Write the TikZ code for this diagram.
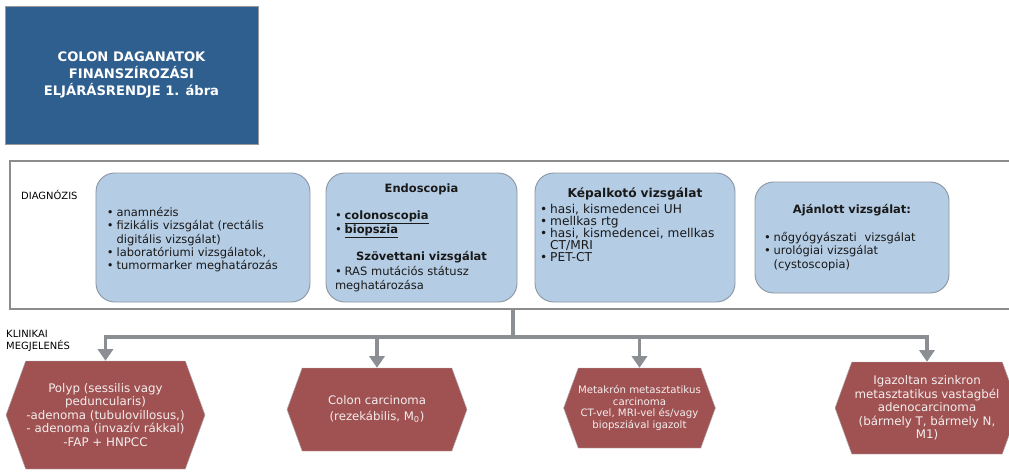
\documentclass[tikz,border=0pt]{standalone}
\usepackage{fontspec}
\setmainfont{DejaVu Sans}
\usepackage{xcolor}
\usetikzlibrary{arrows.meta,shapes.symbols}

\definecolor{cimkek}{HTML}{2F5F8F}
\definecolor{dobozkek}{HTML}{B4CCE4}
\definecolor{dobozszel}{HTML}{8E98A4}
\definecolor{keretszurke}{HTML}{8C8C8C}
\definecolor{nyilszurke}{HTML}{8B8F93}
\definecolor{hexbarna}{HTML}{A05252}
\definecolor{hexszoveg}{HTML}{F4EEEE}

% felsorolas pont, a folytatosor a pont utan kezdodik
\newcommand\pont{\textbullet\hspace{0.25em}}
\newcommand\lista[1]{\par\setbox0\hbox{\pont}\hangindent=\wd0\hangafter=1\noindent\box0 #1}

\tikzset{
  cimdoboz/.style={draw=gray!80, line width=0.8pt, fill=cimkek, text=white, align=center,
    font=\bfseries\fontsize{11.2}{14.5}\selectfont},
  keret/.style={draw=keretszurke, line width=2.5pt},
  vizsgalat/.style={draw=dobozszel, line width=0.8pt, fill=dobozkek, rounded corners=16pt,
    text=black!90, inner xsep=0pt, font=\fontsize{9.8}{11.5}\selectfont},
  kimenet/.style={signal, signal to=east and west, signal pointer angle=140, draw=gray!60,
    fill=hexbarna, text=hexszoveg, align=center, inner sep=0pt,
    font=\fontsize{10.1}{11.5}\selectfont},
  nyil/.style={draw=nyilszurke, line width=2.8pt, -{Triangle[width=13pt,length=10pt]}},
  felirat/.style={font=\fontsize{8.5}{10}\selectfont, align=left, anchor=west, inner sep=0pt}
}

\begin{document}
\begin{tikzpicture}[x=0.03cm, y=-0.03cm]
\useasboundingbox (0,0) rectangle (1009,471);

% cim
\node[cimdoboz, minimum width=7.59cm, minimum height=4.14cm] (cim) at (131.5,75)
  {COLON DAGANATOK\\FINANSZÍROZÁSI\\ELJÁRÁSRENDJE 1. ábra};

% diagnozis keret
\node[keret, minimum width=30.18cm, minimum height=4.44cm] (diagnozis) at (513,235) {};
\node[felirat] (diaglabel) at (21,195) {DIAGNÓZIS};

\node[vizsgalat, minimum width=6.42cm, minimum height=3.87cm, text width=5.76cm] (anamnezis) at (203,237.5)
  {\raggedright
   \lista{anamnézis}
   \lista{fizikális vizsgálat (rectális\newline digitális vizsgálat)}
   \lista{laboratóriumi vizsgálatok,}
   \lista{tumormarker meghatározás}\par};

\node[vizsgalat, minimum width=5.73cm, minimum height=3.87cm, text width=5.19cm] (endoscopia) at (421.5,237.5)
  {\raggedright
   {\centering\bfseries Endoscopia\par}\vspace{12pt}
   \lista{\textbf{\underline{colonoscopia}}}
   \lista{\textbf{\underline{biopszia}}}\par\vspace{10.5pt}
   {\centering\bfseries Szövettani vizsgálat\par}\vspace{1.5pt}
   \lista{RAS mutációs státusz}\par
   \noindent meghatározása\par};

\node[vizsgalat, minimum width=6cm, minimum height=3.87cm, text width=5.7cm,
      font=\fontsize{10.4}{10.2}\selectfont] (kepalkoto) at (635,237.5)
  {\raggedright
   {\centering\bfseries Képalkotó vizsgálat\par}\vspace{4pt}
   \lista{hasi, kismedencei UH}
   \lista{mellkas rtg}
   \lista{hasi, kismedencei, mellkas\newline CT/MRI}
   \lista{PET-CT}\par\vspace{22pt}};

\node[vizsgalat, minimum width=5.82cm, minimum height=3.33cm, text width=5.28cm] (ajanlott) at (852,237.5)
  {\raggedright
   {\centering\bfseries Ajánlott vizsgálat:\par}\vspace{12pt}
   \lista{nőgyógyászati\ \ vizsgálat}
   \lista{urológiai vizsgálat\newline (cystoscopia)}\par};

% klinikai megjelenes
\node[felirat] (klinlabel) at (6,341) {KLINIKAI\\MEGJELENÉS};

\node[kimenet, minimum width=5.97cm, minimum height=3.24cm] (polyp) at (105.5,415)
  {Polyp (sessilis vagy\\peduncularis)\\-adenoma (tubulovillosus,)\\- adenoma (invazív rákkal)\\-FAP + HNPCC};
\node[kimenet, minimum width=5.4cm, minimum height=2.49cm, font=\fontsize{10}{13.5}\selectfont] (karcinoma) at (377,409.5)
  {Colon carcinoma\\(rezekábilis, M\textsubscript{0})};
\node[kimenet, minimum width=4.47cm, minimum height=2.4cm, font=\fontsize{8.7}{10}\selectfont] (metakron) at (639.5,408)
  {Metakrón metasztatikus\\carcinoma\\CT-vel, MRI-vel és/vagy\\biopsziával igazolt};
\node[kimenet, minimum width=5.52cm, minimum height=2.76cm] (szinkron) at (927,408)
  {Igazoltan szinkron\\metasztatikus vastagbél\\adenocarcinoma\\(bármely T, bármely N,\\M1)};

% nyilak
\coordinate (eloszto) at (513,337);
\foreach \cel in {polyp,karcinoma,metakron,szinkron}
  \draw[nyil] (diagnozis.south) -- (eloszto) -| (\cel.north);
\end{tikzpicture}
\end{document}
